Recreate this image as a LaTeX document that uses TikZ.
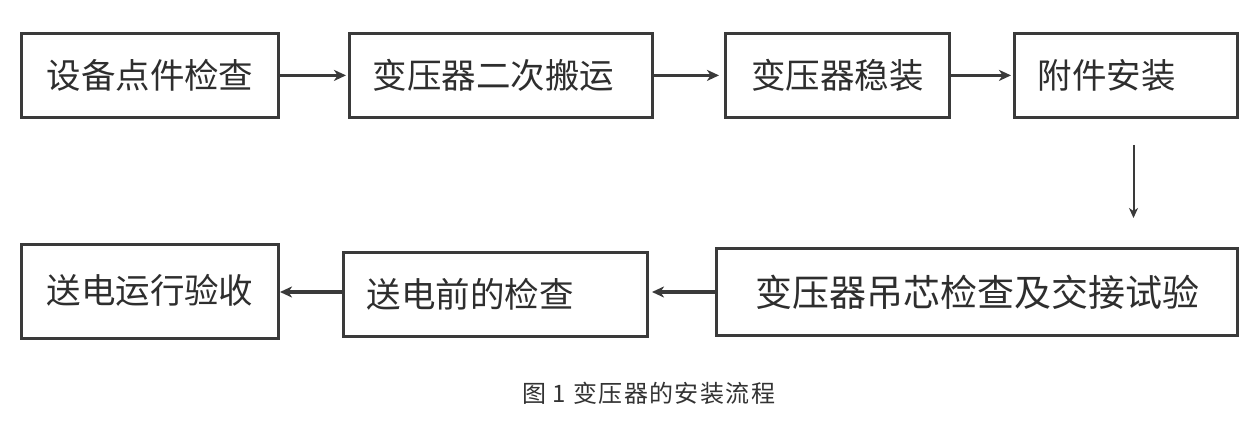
\documentclass[tikz,border=0pt]{standalone}
\usepackage{fontspec}
\usepackage{graphicx}
\newfontfamily\cjk{Noto Sans CJK SC}
\newfontfamily\capfont[LetterSpace=6]{Noto Sans CJK SC}
\usetikzlibrary{arrows.meta}
\definecolor{boxc}{HTML}{3A3A3A}
\definecolor{textc}{HTML}{2E2E2E}
\definecolor{capc}{HTML}{333333}
\begin{document}
\begin{tikzpicture}[x=1pt,y=-1pt,
  stepbox/.style={draw=boxc, line width=3pt, inner ysep=0pt, inner xsep=23pt,
    text=textc, font=\cjk\fontsize{34.5}{40}\selectfont},
  flow/.style={draw=boxc, line width=3.2pt, -{Stealth[length=12pt,width=11pt,inset=3.5pt]}},
  flowthin/.style={draw=boxc, line width=2pt, -{Stealth[length=10pt,width=9pt,inset=3pt]}}]
\useasboundingbox[fill=white] (0,0) rectangle (1254,427);
% top row
\node[stepbox, minimum width=257pt, minimum height=84pt, text width=211pt, align=center] (b1) at (150,75.4) {设备点件检查};
\node[stepbox, minimum width=303pt, minimum height=84pt, text width=257pt, align=left] (b2) at (501,75.4) {变压器二次搬运};
\node[stepbox, minimum width=224pt, minimum height=84pt, text width=178pt, align=center] (b3) at (837.5,75.4) {变压器稳装};
\node[stepbox, minimum width=223pt, minimum height=84pt, text width=177pt, align=left] (b4) at (1126,75.4) {附件安装};
% bottom row
\node[stepbox, minimum width=257pt, minimum height=94pt, text width=211pt, align=center] (b5) at (150,291.5) {\raisebox{5pt}{送电运行验收}};
\node[stepbox, minimum width=304pt, minimum height=84pt, text width=258pt, align=left] (b6) at (495.5,294.5) {送电前的检查};
\node[stepbox, minimum width=521pt, minimum height=87pt, text width=475pt, align=center, font=\cjk\fontsize{37}{42}\selectfont] (b7) at (977,292) {变压器吊芯检查及交接试验};
% connectors
\draw[flow, shorten >=2pt] (b1) -- (b2);
\draw[flow, shorten >=5pt] (b2) -- (b3);
\draw[flow, shorten >=2pt] (b3) -- (b4);
\coordinate (d1) at (1133.5,145);
\coordinate (d2) at (1133.5,218);
\draw[flowthin] (d1) -- (d2);
\draw[flow, shorten >=3pt] (b7.west |- 0,292) -- (b6.east |- 0,292);
\draw[flow] (b6.west |- 0,292) -- (b5.east |- 0,292);
% caption
\node[text=capc, font=\capfont\fontsize{24}{30}\selectfont, inner sep=0pt] (cap) at (648.7,393) {图 1 变压器的安装流程};
\end{tikzpicture}
\end{document}
